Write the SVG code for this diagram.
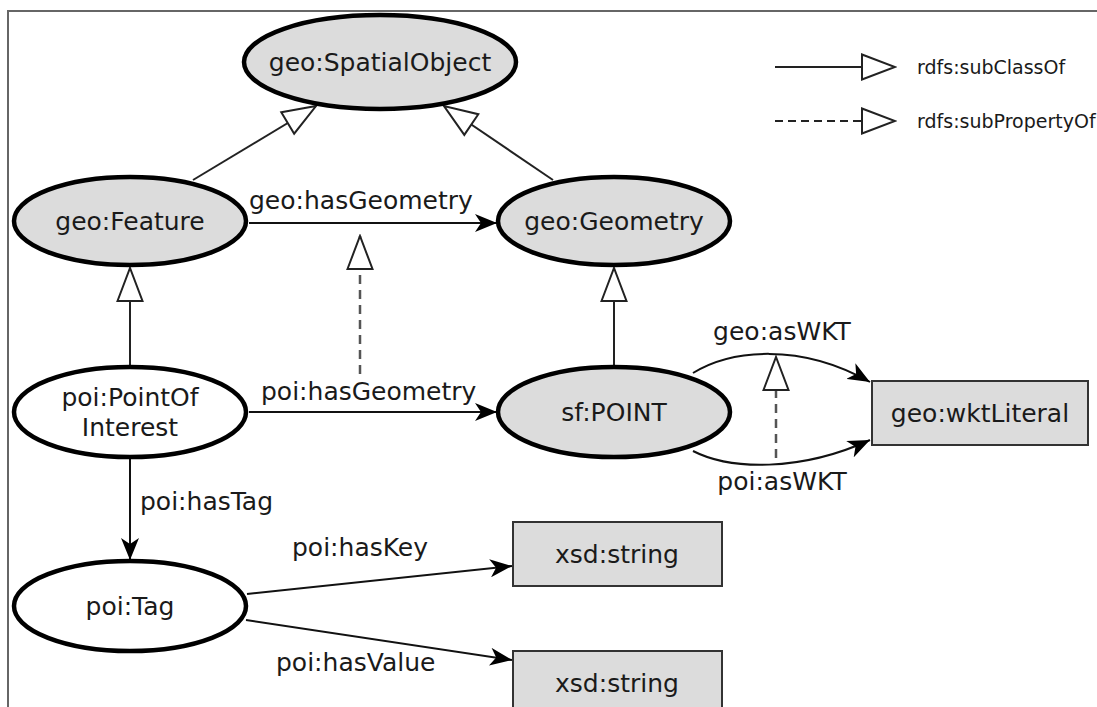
<svg xmlns="http://www.w3.org/2000/svg" width="1097" height="707" viewBox="0 0 1097 707">
<style>
text{font-family:"DejaVu Sans","Liberation Sans",sans-serif;fill:#1a1a1a}
.lbl{font-size:25px;text-anchor:middle}
.elbl{font-size:25px}
.leg{font-size:19px}
.cls{stroke:#000;stroke-width:4.5}
.grey{fill:#dcdcdc}
.white{fill:#fff}
.box{fill:#dcdcdc;stroke:#333;stroke-width:2}
.sub{stroke:#222;stroke-width:2;fill:none}
.dash{stroke:#555;stroke-width:2.5;stroke-dasharray:9,6;fill:none}
.prop{stroke:#111;stroke-width:2;fill:none}
</style>
<defs>
<marker id="open" viewBox="-2 -2 37 29" refX="33" refY="12.5" markerWidth="37" markerHeight="29" markerUnits="userSpaceOnUse" orient="auto">
<path d="M0,0 L33,12.5 L0,25 Z" fill="#fff" stroke="#222" stroke-width="2"/>
</marker>
<marker id="fill" viewBox="0 0 22 18" refX="22" refY="9" markerWidth="22" markerHeight="18" markerUnits="userSpaceOnUse" orient="auto">
<path d="M0,0 L22,9 L0,18 L6,9 Z" fill="#000"/>
</marker>
</defs>
<rect width="1097" height="707" fill="#fff"/>
<path d="M8,707 V11 H1097" fill="none" stroke="#666" stroke-width="2"/>

<g id="connectors">
<line class="sub" x1="193" y1="180" x2="316" y2="106" marker-end="url(#open)"/>
<line class="sub" x1="553" y1="180" x2="444" y2="106" marker-end="url(#open)"/>
<line class="sub" x1="130" y1="366" x2="130" y2="268" marker-end="url(#open)"/>
<line class="sub" x1="614" y1="366" x2="614" y2="268" marker-end="url(#open)"/>
<line class="prop" x1="249" y1="223" x2="497" y2="223" marker-end="url(#fill)"/>
<text class="elbl" x="249" y="209">geo:hasGeometry</text>
<line class="prop" x1="249" y1="412" x2="497" y2="412" marker-end="url(#fill)"/>
<text class="elbl" x="261" y="400">poi:hasGeometry</text>
<line class="dash" x1="360" y1="374" x2="360" y2="236" marker-end="url(#open)"/>
<path class="prop" d="M693,373 C730,350 800,342 870,382" marker-end="url(#fill)"/>
<text class="lbl" x="782" y="340">geo:asWKT</text>
<path class="prop" d="M693,451 C730,470 800,472 870,440" marker-end="url(#fill)"/>
<text class="lbl" x="782" y="490">poi:asWKT</text>
<line class="dash" x1="776" y1="458" x2="776" y2="357" marker-end="url(#open)"/>
<line class="prop" x1="130" y1="459" x2="130" y2="560" marker-end="url(#fill)"/>
<text class="elbl" x="140" y="510">poi:hasTag</text>
<line class="prop" x1="247" y1="594" x2="512" y2="566" marker-end="url(#fill)"/>
<text class="elbl" x="292" y="556">poi:hasKey</text>
<line class="prop" x1="246" y1="620" x2="512" y2="660" marker-end="url(#fill)"/>
<text class="elbl" x="276" y="671">poi:hasValue</text>
</g>

<g id="legend">
<line class="sub" x1="775" y1="67" x2="895" y2="67" marker-end="url(#open)"/>
<text class="leg" x="917" y="74">rdfs:subClassOf</text>
<line class="sub" x1="775" y1="121" x2="895" y2="121" stroke-dasharray="8,5" marker-end="url(#open)"/>
<text class="leg" x="917" y="128">rdfs:subPropertyOf</text>
</g>

<g id="spatialobject">
<ellipse class="cls grey" cx="380" cy="62" rx="136" ry="47"/>
<text class="lbl" x="380" y="71">geo:SpatialObject</text>
</g>
<g id="feature">
<ellipse class="cls grey" cx="130" cy="221" rx="116" ry="44"/>
<text class="lbl" x="130" y="230">geo:Feature</text>
</g>
<g id="geometry">
<ellipse class="cls grey" cx="614" cy="221" rx="116" ry="44"/>
<text class="lbl" x="614" y="230">geo:Geometry</text>
</g>
<g id="pointofinterest">
<ellipse class="cls white" cx="130" cy="412" rx="116" ry="45"/>
<text class="lbl" x="130" y="406">poi:PointOf</text>
<text class="lbl" x="130" y="436">Interest</text>
</g>
<g id="sfpoint">
<ellipse class="cls grey" cx="614" cy="412" rx="116" ry="45"/>
<text class="lbl" x="614" y="421">sf:POINT</text>
</g>
<g id="wktliteral">
<rect class="box" x="872" y="381" width="216" height="64"/>
<text class="lbl" x="980" y="422">geo:wktLiteral</text>
</g>
<g id="tag">
<ellipse class="cls white" cx="130" cy="606" rx="116" ry="45"/>
<text class="lbl" x="130" y="615">poi:Tag</text>
</g>
<g id="string1">
<rect class="box" x="513" y="522" width="209" height="64"/>
<text class="lbl" x="617" y="563">xsd:string</text>
</g>
<g id="string2">
<rect class="box" x="513" y="651" width="209" height="64"/>
<text class="lbl" x="617" y="692">xsd:string</text>
</g>
</svg>
